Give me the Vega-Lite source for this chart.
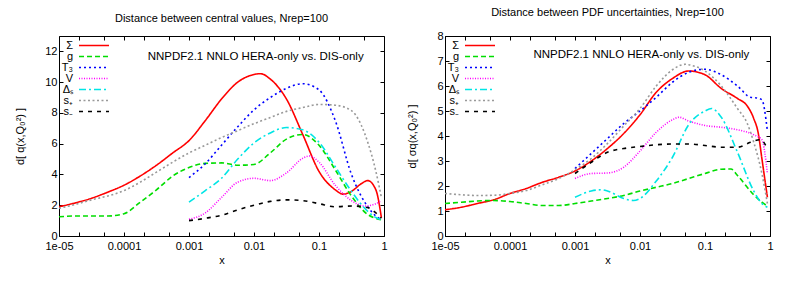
{
 "$schema": "https://vega.github.io/schema/vega-lite/v6.json",
 "padding": {"left": 14, "top": 6, "right": 5, "bottom": 5},
 "spacing": 18,
 "config": {
  "font": "Liberation Sans",
  "view": {"stroke": "#000", "strokeWidth": 1},
  "axis": {"domain": false, "grid": false, "tickColor": "#000", "labelColor": "#000", "titleColor": "#000", "labelFontSize": 11, "titleFontSize": 11, "titleFontWeight": "normal", "labelFont": "Liberation Sans", "titleFont": "Liberation Sans", "tickSize": -4},
  "title": {"fontSize": 11, "fontWeight": "normal", "font": "Liberation Sans", "color": "#000", "offset": 12},
  "legend": {"orient": "none", "legendX": 29, "legendY": 3.5, "title": null, "symbolType": "M-3,0H3", "symbolSize": 100, "symbolStrokeWidth": 1.5, "labelFontSize": 11, "labelFont": "Liberation Sans", "labelColor": "#000", "labelAlign": "right", "labelOffset": -27, "rowPadding": -1, "padding": 0}
 },
 "resolve": {"scale": {"y": "independent", "color": "independent", "strokeDash": "independent"}, "legend": {"color": "independent", "strokeDash": "independent"}},
 "datasets": {
  "central": [
   {"series":"Σ","x":0.00001,"y":1.9},{"series":"Σ","x":0.0000178,"y":2.15},{"series":"Σ","x":0.0000316,"y":2.45},{"series":"Σ","x":0.0000562,"y":2.85},{"series":"Σ","x":0.0001,"y":3.3},{"series":"Σ","x":0.000178,"y":3.9},{"series":"Σ","x":0.000316,"y":4.6},{"series":"Σ","x":0.000562,"y":5.4},{"series":"Σ","x":0.001,"y":6.2},{"series":"Σ","x":0.00178,"y":7.5},{"series":"Σ","x":0.00316,"y":8.9},{"series":"Σ","x":0.00562,"y":10.0},{"series":"Σ","x":0.01,"y":10.5},{"series":"Σ","x":0.0126,"y":10.55},{"series":"Σ","x":0.0178,"y":10.2},{"series":"Σ","x":0.0316,"y":8.9},{"series":"Σ","x":0.0562,"y":6.6},{"series":"Σ","x":0.1,"y":4.2},{"series":"Σ","x":0.178,"y":3.0},{"series":"Σ","x":0.234,"y":2.72},{"series":"Σ","x":0.316,"y":2.9},{"series":"Σ","x":0.447,"y":3.4},{"series":"Σ","x":0.562,"y":3.6},{"series":"Σ","x":0.75,"y":3.0},{"series":"Σ","x":0.912,"y":1.2},
   {"series":"g","x":0.00001,"y":1.25},{"series":"g","x":0.0000178,"y":1.3},{"series":"g","x":0.0000316,"y":1.3},{"series":"g","x":0.0000562,"y":1.3},{"series":"g","x":0.0001,"y":1.45},{"series":"g","x":0.000178,"y":2.2},{"series":"g","x":0.000316,"y":3.0},{"series":"g","x":0.000562,"y":3.9},{"series":"g","x":0.001,"y":4.45},{"series":"g","x":0.00178,"y":4.72},{"series":"g","x":0.00316,"y":4.75},{"series":"g","x":0.00562,"y":4.6},{"series":"g","x":0.01,"y":4.65},{"series":"g","x":0.0178,"y":5.4},{"series":"g","x":0.0316,"y":6.3},{"series":"g","x":0.0562,"y":6.6},{"series":"g","x":0.1,"y":5.9},{"series":"g","x":0.178,"y":4.3},{"series":"g","x":0.316,"y":2.6},{"series":"g","x":0.562,"y":1.4},{"series":"g","x":0.75,"y":1.15},{"series":"g","x":0.912,"y":1.05},
   {"series":"T₃","x":0.001,"y":3.8},{"series":"T₃","x":0.00178,"y":4.7},{"series":"T₃","x":0.00316,"y":5.9},{"series":"T₃","x":0.00562,"y":7.1},{"series":"T₃","x":0.01,"y":8.2},{"series":"T₃","x":0.0178,"y":9.0},{"series":"T₃","x":0.0316,"y":9.6},{"series":"T₃","x":0.0562,"y":9.9},{"series":"T₃","x":0.1,"y":9.5},{"series":"T₃","x":0.178,"y":7.5},{"series":"T₃","x":0.316,"y":4.0},{"series":"T₃","x":0.562,"y":1.9},{"series":"T₃","x":0.75,"y":1.3},{"series":"T₃","x":0.912,"y":1.05},
   {"series":"V","x":0.001,"y":1.08},{"series":"V","x":0.00178,"y":1.5},{"series":"V","x":0.00316,"y":2.5},{"series":"V","x":0.00562,"y":3.5},{"series":"V","x":0.01,"y":3.75},{"series":"V","x":0.0178,"y":3.6},{"series":"V","x":0.0316,"y":4.1},{"series":"V","x":0.0562,"y":5.05},{"series":"V","x":0.0708,"y":5.2},{"series":"V","x":0.1,"y":4.8},{"series":"V","x":0.178,"y":3.3},{"series":"V","x":0.316,"y":2.3},{"series":"V","x":0.501,"y":1.95},{"series":"V","x":0.75,"y":2.1},{"series":"V","x":0.912,"y":2.3},
   {"series":"Δₛ","x":0.001,"y":2.2},{"series":"Δₛ","x":0.00178,"y":2.95},{"series":"Δₛ","x":0.00316,"y":3.75},{"series":"Δₛ","x":0.00562,"y":5.0},{"series":"Δₛ","x":0.01,"y":6.05},{"series":"Δₛ","x":0.0178,"y":6.7},{"series":"Δₛ","x":0.0316,"y":7.05},{"series":"Δₛ","x":0.0562,"y":6.9},{"series":"Δₛ","x":0.1,"y":6.1},{"series":"Δₛ","x":0.178,"y":4.5},{"series":"Δₛ","x":0.316,"y":2.9},{"series":"Δₛ","x":0.562,"y":1.6},{"series":"Δₛ","x":0.75,"y":1.2},{"series":"Δₛ","x":0.912,"y":1.05},
   {"series":"s₊","x":0.00001,"y":1.8},{"series":"s₊","x":0.0000178,"y":2.05},{"series":"s₊","x":0.0000316,"y":2.35},{"series":"s₊","x":0.0000562,"y":2.6},{"series":"s₊","x":0.0001,"y":2.95},{"series":"s₊","x":0.000178,"y":3.5},{"series":"s₊","x":0.000316,"y":4.15},{"series":"s₊","x":0.000562,"y":4.8},{"series":"s₊","x":0.001,"y":5.4},{"series":"s₊","x":0.00178,"y":5.9},{"series":"s₊","x":0.00316,"y":6.4},{"series":"s₊","x":0.00562,"y":6.85},{"series":"s₊","x":0.01,"y":7.3},{"series":"s₊","x":0.0178,"y":7.7},{"series":"s₊","x":0.0316,"y":8.1},{"series":"s₊","x":0.0562,"y":8.35},{"series":"s₊","x":0.1,"y":8.55},{"series":"s₊","x":0.178,"y":8.5},{"series":"s₊","x":0.316,"y":8.15},{"series":"s₊","x":0.447,"y":7.2},{"series":"s₊","x":0.562,"y":6.1},{"series":"s₊","x":0.75,"y":4.2},{"series":"s₊","x":0.912,"y":2.5},
   {"series":"s₋","x":0.001,"y":1.0},{"series":"s₋","x":0.00178,"y":1.15},{"series":"s₋","x":0.00316,"y":1.35},{"series":"s₋","x":0.00562,"y":1.7},{"series":"s₋","x":0.01,"y":2.0},{"series":"s₋","x":0.0178,"y":2.25},{"series":"s₋","x":0.0316,"y":2.35},{"series":"s₋","x":0.0562,"y":2.3},{"series":"s₋","x":0.1,"y":2.1},{"series":"s₋","x":0.178,"y":1.9},{"series":"s₋","x":0.316,"y":1.95},{"series":"s₋","x":0.562,"y":1.85},{"series":"s₋","x":0.75,"y":1.5},{"series":"s₋","x":0.912,"y":1.15}
  ],
  "unc": [
   {"series":"Σ","x":0.00001,"y":1.05},{"series":"Σ","x":0.0000178,"y":1.15},{"series":"Σ","x":0.0000316,"y":1.3},{"series":"Σ","x":0.0000562,"y":1.45},{"series":"Σ","x":0.0001,"y":1.7},{"series":"Σ","x":0.000178,"y":1.9},{"series":"Σ","x":0.000316,"y":2.15},{"series":"Σ","x":0.000562,"y":2.35},{"series":"Σ","x":0.001,"y":2.6},{"series":"Σ","x":0.00178,"y":3.0},{"series":"Σ","x":0.00316,"y":3.5},{"series":"Σ","x":0.00562,"y":4.1},{"series":"Σ","x":0.01,"y":4.85},{"series":"Σ","x":0.0178,"y":5.75},{"series":"Σ","x":0.0316,"y":6.3},{"series":"Σ","x":0.0562,"y":6.6},{"series":"Σ","x":0.1,"y":6.45},{"series":"Σ","x":0.178,"y":5.9},{"series":"Σ","x":0.316,"y":5.5},{"series":"Σ","x":0.447,"y":5.2},{"series":"Σ","x":0.562,"y":4.7},{"series":"Σ","x":0.661,"y":4.1},{"series":"Σ","x":0.75,"y":3.1},{"series":"Σ","x":0.912,"y":1.55},
   {"series":"g","x":0.00001,"y":1.3},{"series":"g","x":0.0000178,"y":1.35},{"series":"g","x":0.0000316,"y":1.4},{"series":"g","x":0.0000562,"y":1.42},{"series":"g","x":0.0001,"y":1.38},{"series":"g","x":0.000178,"y":1.3},{"series":"g","x":0.000316,"y":1.22},{"series":"g","x":0.000562,"y":1.22},{"series":"g","x":0.001,"y":1.3},{"series":"g","x":0.00178,"y":1.4},{"series":"g","x":0.00316,"y":1.5},{"series":"g","x":0.00562,"y":1.62},{"series":"g","x":0.01,"y":1.8},{"series":"g","x":0.0178,"y":1.95},{"series":"g","x":0.0316,"y":2.1},{"series":"g","x":0.0562,"y":2.3},{"series":"g","x":0.1,"y":2.5},{"series":"g","x":0.178,"y":2.67},{"series":"g","x":0.251,"y":2.68},{"series":"g","x":0.316,"y":2.42},{"series":"g","x":0.562,"y":1.65},{"series":"g","x":0.75,"y":1.35},{"series":"g","x":0.912,"y":1.2},
   {"series":"T₃","x":0.001,"y":2.7},{"series":"T₃","x":0.00178,"y":3.3},{"series":"T₃","x":0.00316,"y":3.9},{"series":"T₃","x":0.00562,"y":4.5},{"series":"T₃","x":0.01,"y":5.0},{"series":"T₃","x":0.0178,"y":5.55},{"series":"T₃","x":0.0316,"y":6.15},{"series":"T₃","x":0.0562,"y":6.55},{"series":"T₃","x":0.1,"y":6.67},{"series":"T₃","x":0.178,"y":6.45},{"series":"T₃","x":0.316,"y":6.0},{"series":"T₃","x":0.501,"y":5.55},{"series":"T₃","x":0.631,"y":5.52},{"series":"T₃","x":0.75,"y":5.45},{"series":"T₃","x":0.912,"y":4.2},
   {"series":"V","x":0.001,"y":2.3},{"series":"V","x":0.00178,"y":2.5},{"series":"V","x":0.00316,"y":2.52},{"series":"V","x":0.00562,"y":2.75},{"series":"V","x":0.01,"y":3.4},{"series":"V","x":0.0178,"y":4.15},{"series":"V","x":0.0316,"y":4.65},{"series":"V","x":0.0398,"y":4.75},{"series":"V","x":0.0562,"y":4.6},{"series":"V","x":0.1,"y":4.42},{"series":"V","x":0.178,"y":4.35},{"series":"V","x":0.316,"y":4.25},{"series":"V","x":0.562,"y":4.05},{"series":"V","x":0.75,"y":3.85},{"series":"V","x":0.912,"y":2.5},
   {"series":"Δₛ","x":0.001,"y":1.55},{"series":"Δₛ","x":0.00178,"y":1.8},{"series":"Δₛ","x":0.00251,"y":1.85},{"series":"Δₛ","x":0.00316,"y":1.8},{"series":"Δₛ","x":0.00562,"y":1.5},{"series":"Δₛ","x":0.00794,"y":1.42},{"series":"Δₛ","x":0.01,"y":1.5},{"series":"Δₛ","x":0.0178,"y":2.2},{"series":"Δₛ","x":0.0316,"y":3.15},{"series":"Δₛ","x":0.0562,"y":4.45},{"series":"Δₛ","x":0.1,"y":5.0},{"series":"Δₛ","x":0.126,"y":5.1},{"series":"Δₛ","x":0.178,"y":4.75},{"series":"Δₛ","x":0.316,"y":3.35},{"series":"Δₛ","x":0.562,"y":1.8},{"series":"Δₛ","x":0.75,"y":1.3},{"series":"Δₛ","x":0.912,"y":1.15},
   {"series":"s₊","x":0.00001,"y":1.7},{"series":"s₊","x":0.0000178,"y":1.65},{"series":"s₊","x":0.0000316,"y":1.62},{"series":"s₊","x":0.0000562,"y":1.63},{"series":"s₊","x":0.0001,"y":1.7},{"series":"s₊","x":0.000178,"y":1.82},{"series":"s₊","x":0.000316,"y":2.05},{"series":"s₊","x":0.000562,"y":2.3},{"series":"s₊","x":0.001,"y":2.65},{"series":"s₊","x":0.00178,"y":3.1},{"series":"s₊","x":0.00316,"y":3.7},{"series":"s₊","x":0.00562,"y":4.4},{"series":"s₊","x":0.01,"y":5.1},{"series":"s₊","x":0.0178,"y":6.0},{"series":"s₊","x":0.0316,"y":6.65},{"series":"s₊","x":0.0501,"y":6.87},{"series":"s₊","x":0.0562,"y":6.85},{"series":"s₊","x":0.1,"y":6.6},{"series":"s₊","x":0.178,"y":6.0},{"series":"s₊","x":0.316,"y":5.1},{"series":"s₊","x":0.447,"y":4.5},{"series":"s₊","x":0.562,"y":3.75},{"series":"s₊","x":0.75,"y":2.5},{"series":"s₊","x":0.912,"y":1.3},
   {"series":"s₋","x":0.001,"y":2.5},{"series":"s₋","x":0.00178,"y":2.95},{"series":"s₋","x":0.00316,"y":3.35},{"series":"s₋","x":0.00562,"y":3.5},{"series":"s₋","x":0.01,"y":3.58},{"series":"s₋","x":0.0178,"y":3.65},{"series":"s₋","x":0.0316,"y":3.68},{"series":"s₋","x":0.0562,"y":3.68},{"series":"s₋","x":0.1,"y":3.62},{"series":"s₋","x":0.178,"y":3.55},{"series":"s₋","x":0.316,"y":3.55},{"series":"s₋","x":0.501,"y":3.75},{"series":"s₋","x":0.708,"y":3.85},{"series":"s₋","x":0.912,"y":3.5}
  ]
 },
 "hconcat": [
  {
   "width": 325, "height": 200,
   "title": "Distance between central values, Nrep=100",
   "resolve": {"axis": {"x": "independent", "y": "independent"}},
   "layer": [
    {
     "data": {"name": "central"},
     "mark": {"type": "line", "interpolate": "monotone", "strokeWidth": 1.6, "clip": true},
     "encoding": {
      "x": {"field": "x", "type": "quantitative", "scale": {"type": "log", "domain": [0.00001, 1]}, "axis": {"orient": "bottom", "title": "x", "values": [0.00001,0.00002,0.00005,0.0001,0.0002,0.0005,0.001,0.002,0.005,0.01,0.02,0.05,0.1,0.2,0.5,1], "labelExpr": "datum.value == 0.00001 ? '1e-05' : datum.value == 0.0001 ? '0.0001' : datum.value == 0.001 ? '0.001' : datum.value == 0.01 ? '0.01' : datum.value == 0.1 ? '0.1' : datum.value == 1 ? '1' : ''", "labelOverlap": false, "labelFlush": false, "labelPadding": 8, "titlePadding": 3}},
      "y": {"field": "y", "type": "quantitative", "scale": {"domain": [0, 13]}, "axis": {"orient": "left", "title": "d[ q(x,Q₀²) ]", "values": [0,2,4,6,8,10,12], "labelPadding": 6, "titlePadding": 19}},
      "color": {"field": "series", "type": "nominal", "scale": {"domain": ["Σ","g","T₃","V","Δₛ","s₊","s₋"], "range": ["#ff0000","#00dd00","#0000ff","#ff00ff","#00e5e5","#999999","#000000"]}},
      "strokeDash": {"field": "series", "type": "nominal", "scale": {"domain": ["Σ","g","T₃","V","Δₛ","s₊","s₋"], "range": [[1,0],[5,3],[2,3],[1,1.5],[7,3,2,3],[2,2.5],[4,5]]}}
     }
    },
    {
     "data": {"values": [{}]},
     "mark": {"type": "text", "text": "NNPDF2.1 NNLO HERA-only vs. DIS-only", "fontSize": 11.5, "font": "Liberation Sans", "baseline": "middle", "align": "center", "color": "#000"},
     "encoding": {
      "x": {"datum": 0.0106, "type": "quantitative", "scale": {"type": "log", "domain": [0.00001, 1]}, "axis": {"orient": "top", "title": null, "labels": false, "values": [0.00001,0.00002,0.00005,0.0001,0.0002,0.0005,0.001,0.002,0.005,0.01,0.02,0.05,0.1,0.2,0.5,1]}},
      "y": {"datum": 11.63, "type": "quantitative", "scale": {"domain": [0, 13]}, "axis": {"orient": "right", "title": null, "labels": false, "values": [0,2,4,6,8,10,12]}}
     }
    }
   ]
  },
  {
   "width": 325, "height": 200,
   "title": "Distance between PDF uncertainties, Nrep=100",
   "resolve": {"axis": {"x": "independent", "y": "independent"}},
   "layer": [
    {
     "data": {"name": "unc"},
     "mark": {"type": "line", "interpolate": "monotone", "strokeWidth": 1.6, "clip": true},
     "encoding": {
      "x": {"field": "x", "type": "quantitative", "scale": {"type": "log", "domain": [0.00001, 1]}, "axis": {"orient": "bottom", "title": "x", "values": [0.00001,0.00002,0.00005,0.0001,0.0002,0.0005,0.001,0.002,0.005,0.01,0.02,0.05,0.1,0.2,0.5,1], "labelExpr": "datum.value == 0.00001 ? '1e-05' : datum.value == 0.0001 ? '0.0001' : datum.value == 0.001 ? '0.001' : datum.value == 0.01 ? '0.01' : datum.value == 0.1 ? '0.1' : datum.value == 1 ? '1' : ''", "labelOverlap": false, "labelFlush": false, "labelPadding": 8, "titlePadding": 3}},
      "y": {"field": "y", "type": "quantitative", "scale": {"domain": [0, 8]}, "axis": {"orient": "left", "title": "d[ σq(x,Q₀²) ]", "values": [0,1,2,3,4,5,6,7,8], "labelPadding": 6, "titlePadding": 19}},
      "color": {"field": "series", "type": "nominal", "scale": {"domain": ["Σ","g","T₃","V","Δₛ","s₊","s₋"], "range": ["#ff0000","#00dd00","#0000ff","#ff00ff","#00e5e5","#999999","#000000"]}},
      "strokeDash": {"field": "series", "type": "nominal", "scale": {"domain": ["Σ","g","T₃","V","Δₛ","s₊","s₋"], "range": [[1,0],[5,3],[2,3],[1,1.5],[7,3,2,3],[2,2.5],[4,5]]}}
     }
    },
    {
     "data": {"values": [{}]},
     "mark": {"type": "text", "text": "NNPDF2.1 NNLO HERA-only vs. DIS-only", "fontSize": 11.5, "font": "Liberation Sans", "baseline": "middle", "align": "center", "color": "#000"},
     "encoding": {
      "x": {"datum": 0.0105, "type": "quantitative", "scale": {"type": "log", "domain": [0.00001, 1]}, "axis": {"orient": "top", "title": null, "labels": false, "values": [0.00001,0.00002,0.00005,0.0001,0.0002,0.0005,0.001,0.002,0.005,0.01,0.02,0.05,0.1,0.2,0.5,1]}},
      "y": {"datum": 7.23, "type": "quantitative", "scale": {"domain": [0, 8]}, "axis": {"orient": "right", "title": null, "labels": false, "values": [0,1,2,3,4,5,6,7,8]}}
     }
    }
   ]
  }
 ]
}
